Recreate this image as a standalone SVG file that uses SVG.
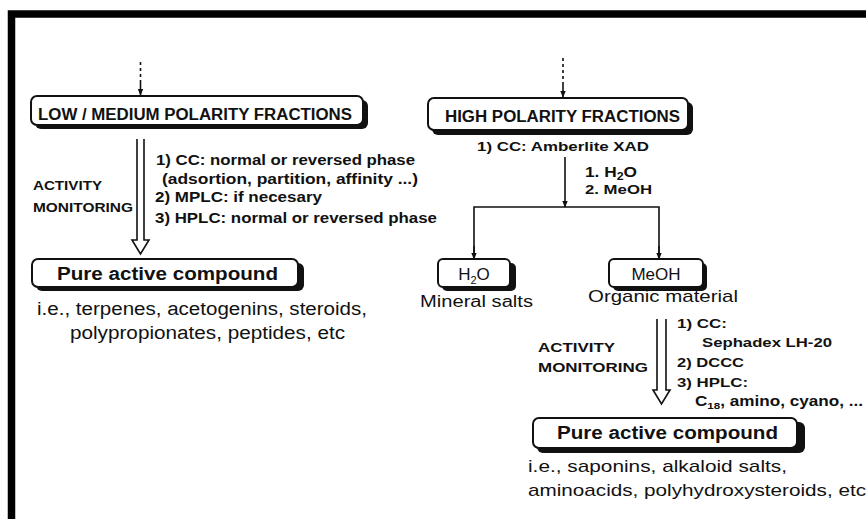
<svg xmlns="http://www.w3.org/2000/svg" width="866" height="519" viewBox="0 0 866 519">
<defs>
<style>
.b{font-family:"Liberation Sans",Arial,sans-serif;font-weight:bold;fill:#111}
.r{font-family:"Liberation Sans",Arial,sans-serif;fill:#111}
.box{fill:#fff;stroke:#111;stroke-width:2}
.sh{fill:#111}
.ln{stroke:#111;stroke-width:1.6;fill:none}
.dash{stroke:#111;stroke-width:1.6;fill:none;stroke-dasharray:3 3}
</style>
<marker id="ah" viewBox="0 0 10 10" refX="9" refY="5" markerWidth="7" markerHeight="7" markerUnits="userSpaceOnUse" orient="auto">
<path d="M0,1 L10,5 L0,9 Z" fill="#111"/>
</marker>
</defs>
<rect width="866" height="519" fill="#fff"/>
<path d="M11.5,519 V14 H866" fill="none" stroke="#000" stroke-width="7.5"/>

<g id="connectors">
<line class="dash" x1="140.5" y1="62" x2="140.5" y2="82"/>
<line class="ln" x1="140.5" y1="82" x2="140.5" y2="95" marker-end="url(#ah)"/>
<line class="dash" x1="563" y1="58" x2="563" y2="82"/>
<line class="ln" x1="563" y1="82" x2="563" y2="97" marker-end="url(#ah)"/>
<path class="ln" d="M137,139 V240 H132 L140.5,254 L149,240 H144 V139" fill="#fff"/>
<line class="ln" x1="565" y1="157" x2="565" y2="207" marker-end="url(#ah)"/>
<path class="ln" d="M474,258 V207 H659 V258"/>
<line class="ln" x1="474" y1="246" x2="474" y2="259" marker-end="url(#ah)"/>
<line class="ln" x1="659" y1="246" x2="659" y2="259" marker-end="url(#ah)"/>
<path class="ln" d="M657,319 V390 H653 L661.5,404 L670,390 H666 V319" fill="#fff"/>
</g>

<g id="n-low">
<rect class="sh" x="35" y="100" width="333" height="29" rx="6"/>
<rect class="box" x="31" y="96" width="332" height="29" rx="6"/>
<text class="b" x="38" y="120" font-size="16" textLength="314" lengthAdjust="spacingAndGlyphs">LOW / MEDIUM POLARITY FRACTIONS</text>
</g>
<g id="t-left-steps">
<text class="b" x="156" y="165" font-size="14" textLength="259" lengthAdjust="spacingAndGlyphs">1) CC: normal or reversed phase</text>
<text class="b" x="162" y="184" font-size="14" textLength="256" lengthAdjust="spacingAndGlyphs">(adsortion, partition, affinity ...)</text>
<text class="b" x="155" y="202" font-size="14" textLength="167" lengthAdjust="spacingAndGlyphs">2) MPLC: if necesary</text>
<text class="b" x="155" y="223" font-size="14" textLength="282" lengthAdjust="spacingAndGlyphs">3) HPLC: normal or reversed phase</text>
<text class="b" x="33" y="190" font-size="12.5" textLength="69" lengthAdjust="spacingAndGlyphs">ACTIVITY</text>
<text class="b" x="33" y="212" font-size="12.5" textLength="100" lengthAdjust="spacingAndGlyphs">MONITORING</text>
</g>
<g id="n-pure-left">
<rect class="sh" x="36" y="263" width="268" height="28" rx="6"/>
<rect class="box" x="32" y="259" width="266" height="28" rx="6"/>
<text class="b" x="57" y="280" font-size="17.5" textLength="221" lengthAdjust="spacingAndGlyphs">Pure active compound</text>
<text class="r" x="37" y="315" font-size="18" textLength="330" lengthAdjust="spacingAndGlyphs">i.e., terpenes, acetogenins, steroids,</text>
<text class="r" x="70" y="339" font-size="18" textLength="275" lengthAdjust="spacingAndGlyphs">polypropionates, peptides, etc</text>
</g>

<g id="n-high">
<rect class="sh" x="432" y="102" width="261" height="33" rx="6"/>
<rect class="box" x="428" y="98" width="260" height="32" rx="6"/>
<text class="b" x="445" y="122" font-size="16" textLength="235" lengthAdjust="spacingAndGlyphs">HIGH POLARITY FRACTIONS</text>
<text class="b" x="477" y="151" font-size="13" textLength="172" lengthAdjust="spacingAndGlyphs">1) CC: Amberlite XAD</text>
<text class="b" x="585" y="177" font-size="14" textLength="52" lengthAdjust="spacingAndGlyphs">1. H<tspan font-size="10" dy="3">2</tspan><tspan dy="-3">O</tspan></text>
<text class="b" x="585" y="194" font-size="13.5" textLength="67" lengthAdjust="spacingAndGlyphs">2. MeOH</text>
</g>
<g id="n-h2o">
<rect class="sh" x="442" y="263" width="74" height="28" rx="5"/>
<rect class="box" x="438" y="259" width="72" height="28" rx="5"/>
<text class="r" x="474" y="280" font-size="17" text-anchor="middle">H<tspan font-size="11" dy="4">2</tspan><tspan dy="-4">O</tspan></text>
<text class="r" x="420" y="307" font-size="16" textLength="113" lengthAdjust="spacingAndGlyphs">Mineral salts</text>
</g>
<g id="n-meoh">
<rect class="sh" x="613" y="263" width="94" height="28" rx="5"/>
<rect class="box" x="609" y="259" width="94" height="28" rx="5"/>
<text class="r" x="656" y="280" font-size="17" text-anchor="middle">MeOH</text>
<text class="r" x="588" y="302" font-size="17" textLength="150" lengthAdjust="spacingAndGlyphs">Organic material</text>
</g>
<g id="t-right-steps">
<text class="b" x="677" y="328" font-size="13.5" textLength="50" lengthAdjust="spacingAndGlyphs">1) CC:</text>
<text class="b" x="702" y="347" font-size="13" textLength="130" lengthAdjust="spacingAndGlyphs">Sephadex LH-20</text>
<text class="b" x="677" y="367" font-size="13.5" textLength="67" lengthAdjust="spacingAndGlyphs">2) DCCC</text>
<text class="b" x="677" y="387" font-size="13.5" textLength="71" lengthAdjust="spacingAndGlyphs">3) HPLC:</text>
<text class="b" x="695" y="406" font-size="14" textLength="168" lengthAdjust="spacingAndGlyphs">C<tspan font-size="9.5" dy="3">18</tspan><tspan dy="-3">, amino, cyano, ...</tspan></text>
<text class="b" x="538" y="352" font-size="13" textLength="77" lengthAdjust="spacingAndGlyphs">ACTIVITY</text>
<text class="b" x="538" y="372" font-size="13" textLength="110" lengthAdjust="spacingAndGlyphs">MONITORING</text>
</g>
<g id="n-pure-right">
<rect class="sh" x="537" y="422" width="268" height="31" rx="6"/>
<rect class="box" x="533" y="418" width="264" height="30" rx="6"/>
<text class="b" x="557" y="439" font-size="17.5" textLength="221" lengthAdjust="spacingAndGlyphs">Pure active compound</text>
<text class="r" x="528" y="472" font-size="17" textLength="259" lengthAdjust="spacingAndGlyphs">i.e., saponins, alkaloid salts,</text>
<text class="r" x="528" y="496" font-size="17" textLength="338" lengthAdjust="spacingAndGlyphs">aminoacids, polyhydroxysteroids, etc</text>
</g>
</svg>
